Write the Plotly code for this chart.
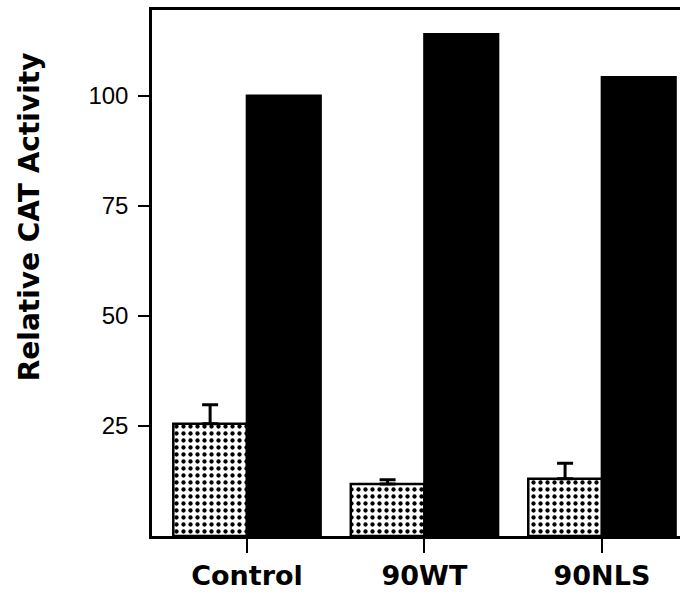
import plotly.graph_objects as go

categories = ["Control", "90WT", "90NLS"]
basal_values = [25.5, 11.8, 13.0]
basal_errors = [4.3, 1.0, 3.5]
induced_values = [100.0, 114.0, 104.2]
y_ticks = [25, 50, 75, 100]

fig = go.Figure()
fig.add_trace(go.Bar(
    x=categories, y=basal_values,
    marker=dict(color="white", line=dict(color="black", width=2.5),
                pattern=dict(shape=".", fgcolor="black", bgcolor="white", size=7,
                             solidity=0.3, fgopacity=1)),
    error_y=dict(type="data", symmetric=False, array=basal_errors, arrayminus=[0, 0, 0],
                 color="black", thickness=3, width=8),
    showlegend=False,
))
fig.add_trace(go.Bar(
    x=categories, y=induced_values,
    marker=dict(color="black", line=dict(color="black", width=2.5)),
    showlegend=False,
))

fig.update_layout(
    width=680, height=598,
    margin=dict(l=152, r=0, t=10, b=62),
    barmode="group", bargap=0.17, bargroupgap=0,
    plot_bgcolor="white", paper_bgcolor="white",
    font=dict(family="Liberation Sans, Arial, sans-serif", color="black"),
    annotations=[dict(
        text="<b>Relative CAT Activity</b>", textangle=-90,
        xref="paper", yref="paper", x=-0.232, y=0.607,
        xanchor="center", yanchor="middle", showarrow=False,
        font=dict(size=28, family="DejaVu Sans, sans-serif", color="black"),
    )],
)
fig.update_xaxes(
    range=[-0.535, 2.44], automargin=False,
    showline=True, linecolor="black", linewidth=2.5, mirror=True,
    ticks="outside", ticklen=14, tickwidth=2, tickcolor="black",
    tickfont=dict(size=27, family="DejaVu Sans, sans-serif", weight="bold"),
    showgrid=False,
)
fig.update_yaxes(
    range=[0, 119.5], automargin=False,
    tickvals=y_ticks, ticktext=[str(v) for v in y_ticks],
    showline=True, linecolor="black", linewidth=2.5,
    ticks="outside", ticklen=11, tickwidth=2, tickcolor="black",
    ticklabelstandoff=5,
    tickfont=dict(size=24),
    showgrid=False, zeroline=False,
)

fig.write_html("out.html", config={"displayModeBar": False},
               post_script="document.body.style.margin='0';")
